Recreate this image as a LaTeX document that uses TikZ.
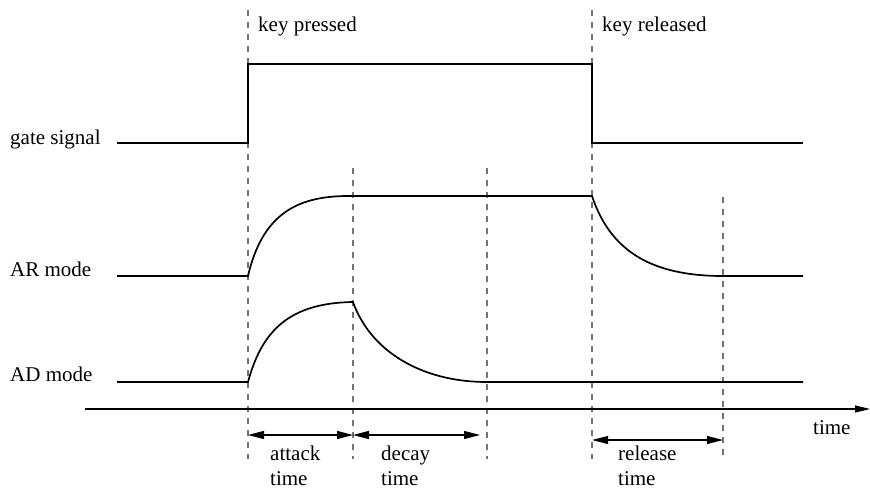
\documentclass[tikz,border=0pt]{standalone}
\usepackage{fontspec}
\setmainfont{Liberation Serif}
\usetikzlibrary{arrows.meta}
\begin{document}
\begin{tikzpicture}[x=1pt,y=-1pt,
  sig/.style={line width=1.7pt, line join=miter},
  guide/.style={draw=black!55, line width=1.1pt, dash pattern=on 6pt off 6pt},
  lbl/.style={font=\fontsize{21}{25}\selectfont, inner sep=0pt, anchor=base west},
  span/.style={line width=1.1pt, {Triangle[length=16pt,width=8pt]}-{Triangle[length=16pt,width=8pt]}},
  axisline/.style={line width=1.1pt, -{Triangle[length=15pt,width=7pt]}}
]
\useasboundingbox (0,0) rectangle (870,489);

% guide lines
\coordinate (g1t) at (248,10);  \coordinate (g1b) at (248,459);
\coordinate (g2t) at (353,168); \coordinate (g2b) at (353,459);
\coordinate (g3t) at (487,168); \coordinate (g3b) at (487,459);
\coordinate (g4t) at (592,10);  \coordinate (g4b) at (592,459);
\coordinate (g5t) at (723,197); \coordinate (g5b) at (723,459);
\draw[guide] (g1t) -- (g1b);
\draw[guide] (g2t) -- (g2b);
\draw[guide] (g3t) -- (g3b);
\draw[guide] (g4t) -- (g4b);
\draw[guide] (g5t) -- (g5b);

% labels
\node[lbl] (lgate) at (10,145) {gate signal};
\node[lbl] (lar) at (10,276) {AR mode};
\node[lbl] (lad) at (10,381) {AD mode};
\node[lbl] (lkp) at (258,32) {key pressed};
\node[lbl] (lkr) at (602,32) {key released};
\node[lbl] (ltime) at (813,434) {time};
\node[lbl] (la1) at (270,460) {attack};
\node[lbl] (la2) at (270,485) {time};
\node[lbl] (ld1) at (381,460) {decay};
\node[lbl] (ld2) at (381,485) {time};
\node[lbl] (lr1) at (618,460) {release};
\node[lbl] (lr2) at (618,485) {time};

% gate signal
\coordinate (ga) at (117,143);
\coordinate (gb) at (248,143);
\coordinate (gc) at (248,64);
\coordinate (gd) at (592,64);
\coordinate (ge) at (592,143);
\coordinate (gf) at (803,143);
\draw[sig] (ga) -- (gb) -- (gc) -- (gd) -- (ge) -- (gf);

% AR mode
\coordinate (ra) at (117,276);
\coordinate (rb) at (248,276);
\coordinate (rc) at (348,196);
\coordinate (rd) at (592,196);
\coordinate (re) at (723,276);
\coordinate (rf) at (803,276);
\draw[sig] (ra) -- (rb) .. controls (262,216) and (295,196) .. (rc) -- (rd)
  .. controls (610,250) and (650,276) .. (re) -- (rf);

% AD mode
\coordinate (da) at (117,382);
\coordinate (db) at (248,382);
\coordinate (dc) at (353,302);
\coordinate (dd) at (487,382);
\coordinate (de) at (803,382);
\draw[sig] (da) -- (db) .. controls (262,330) and (290,303) .. (dc)
  .. controls (370,350) and (420,382) .. (dd) -- (de);

% time axis
\coordinate (ax0) at (85,409);
\coordinate (ax1) at (870,409);
\draw[axisline] (ax0) -- (ax1);

% spans
\coordinate (sa0) at (248,435); \coordinate (sa1) at (353,435);
\coordinate (sd0) at (353,435); \coordinate (sd1) at (480,435);
\coordinate (sr0) at (592,440); \coordinate (sr1) at (723,440);
\draw[span] (sa0) -- (sa1);
\draw[span] (sd0) -- (sd1);
\draw[span] (sr0) -- (sr1);
\end{tikzpicture}
\end{document}
